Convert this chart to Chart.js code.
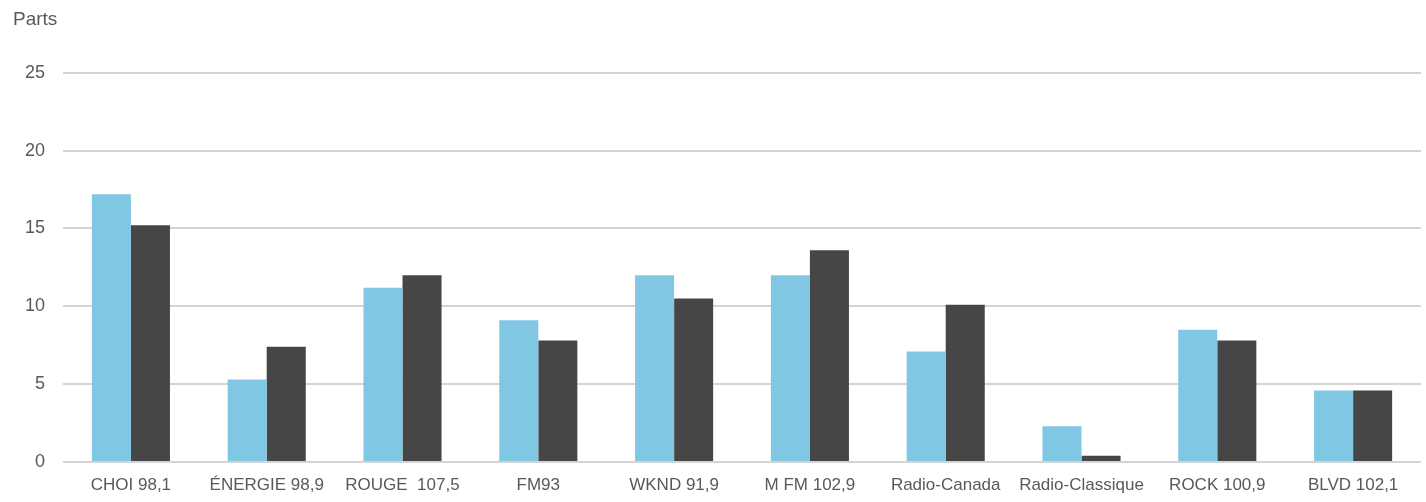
<!DOCTYPE html>
<html>
<head>
<meta charset="utf-8">
<script src="https://cdn.jsdelivr.net/npm/chart.js@4/dist/chart.umd.min.js"></script>
<style>
  html, body { margin: 0; padding: 0; background: #fff; }
  #wrap { width: 1426px; height: 502px; }
</style>
</head>
<body>
<div id="wrap"><canvas id="chart" width="1426" height="502"></canvas></div>
<script>
// stations and their shares (parts)
const stations = ['CHOI 98,1', 'ÉNERGIE 98,9', 'ROUGE  107,5', 'FM93', 'WKND 91,9',
                  'M FM 102,9', 'Radio-Canada', 'Radio-Classique', 'ROCK 100,9', 'BLVD 102,1'];
const partsA = [17.2, 5.3, 11.2, 9.1, 12.0, 12.0, 7.1, 2.3, 8.5, 4.6];
const partsB = [15.2, 7.4, 12.0, 7.8, 10.5, 13.6, 10.1, 0.4, 7.8, 4.6];
const yTicks = [0, 5, 10, 15, 20, 25];

const FONT = '"Liberation Sans", Arial, sans-serif';
const GREY = '#595959';

// nudge the "Parts" title away from the left edge
const titleIndent = {
    id: 'titleIndent',
    afterLayout(chart) {
        if (chart.titleBlock) chart.titleBlock.left = 13;
    }
};

new Chart(document.getElementById('chart'), {
    type: 'bar',
    data: {
        labels: stations,
        datasets: [
            {
                label: 'Série 1',
                data: partsA,
                backgroundColor: '#7fc7e3',
                barPercentage: 1.0,
                categoryPercentage: 0.575
            },
            {
                label: 'Série 2',
                data: partsB,
                backgroundColor: '#464646',
                barPercentage: 1.0,
                categoryPercentage: 0.575
            }
        ]
    },
    plugins: [titleIndent],
    options: {
        responsive: false,
        animation: false,
        layout: { padding: { left: 1, right: 5, top: 0, bottom: 0 } },
        plugins: {
            legend: { display: false },
            tooltip: { enabled: false },
            title: {
                display: true,
                text: 'Parts',
                align: 'start',
                color: GREY,
                font: { family: FONT, size: 19, weight: 'normal' },
                padding: { top: 8, bottom: 42 }
            }
        },
        scales: {
            x: {
                grid: { display: false },
                border: { display: false },
                ticks: {
                    color: GREY,
                    font: { family: FONT, size: 17 },
                    padding: 5,
                    maxRotation: 0,
                    autoSkip: false
                },
                afterFit: function (scale) { scale.height = 40; }
            },
            y: {
                min: 0,
                max: 25,
                afterBuildTicks: function (scale) {
                    scale.ticks = yTicks.map(v => ({ value: v }));
                },
                grid: { color: '#d4d4d4', lineWidth: 2, drawTicks: false },
                border: { display: false },
                ticks: {
                    color: GREY,
                    font: { family: FONT, size: 18 },
                    padding: 18
                },
                afterFit: function (scale) { scale.width = 62; }
            }
        }
    }
});
</script>
</body>
</html>
